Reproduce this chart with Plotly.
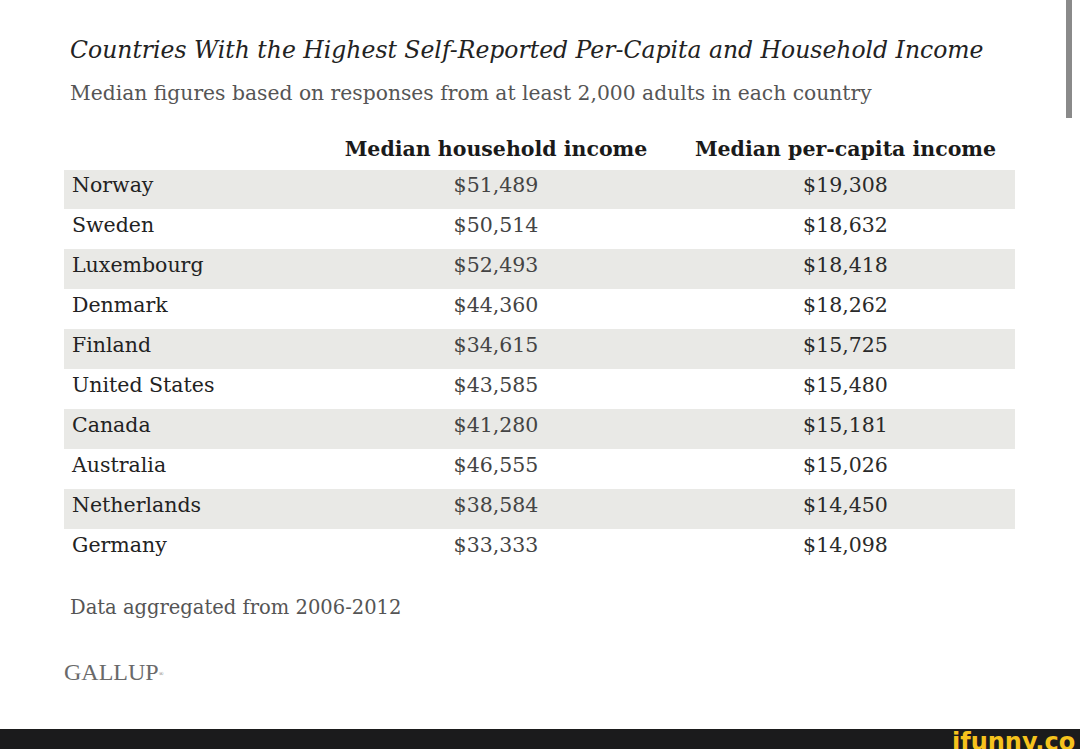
import plotly.graph_objects as go

countries = ["Norway", "Sweden", "Luxembourg", "Denmark", "Finland",
             "United States", "Canada", "Australia", "Netherlands", "Germany"]
household = [51489, 50514, 52493, 44360, 34615, 43585, 41280, 46555, 38584, 33333]
per_capita = [19308, 18632, 18418, 18262, 15725, 15480, 15181, 15026, 14450, 14098]
headers = ["", "Median household income", "Median per-capita income"]

W, H = 1080, 749
SERIF = "DejaVu Serif"

def money(v):
    return "${:,}".format(v)

stripe = ["#e9e9e6" if i % 2 == 0 else "#ffffff" for i in range(len(countries))]

fig = go.Figure()
fig.add_trace(go.Table(
    domain=dict(x=[64 / W, 1014 / W], y=[0.15, 1 - 129 / H]),
    columnwidth=[251, 362, 337],
    header=dict(
        values=["<b>%s</b>" % h if h else "" for h in headers],
        align=["left", "center", "center"],
        fill_color="white",
        line_color="white",
        height=40,
        font=dict(family=SERIF, size=20.5, color="#1a1a1a"),
    ),
    cells=dict(
        values=[countries, [money(v) for v in household], [money(v) for v in per_capita]],
        align=["left", "center", "center"],
        fill_color=[stripe, stripe, stripe],
        line_color=[stripe, stripe, stripe],
        height=40,
        font=dict(family=SERIF, size=20.5, color=["#222222", "#444444", "#2a2a2a"]),
    ),
))

fig.add_annotation(text="<i>Countries With the Highest Self-Reported Per-Capita and Household Income</i>",
                   x=68 / W, y=1 - 50 / H, xref="paper", yref="paper", xanchor="left", yanchor="middle",
                   showarrow=False, font=dict(family=SERIF, size=23.5, color="#222222"))
fig.add_annotation(text="Median figures based on responses from at least 2,000 adults in each country",
                   x=68 / W, y=1 - 93 / H, xref="paper", yref="paper", xanchor="left", yanchor="middle",
                   showarrow=False, font=dict(family=SERIF, size=20.3, color="#555555"))
fig.add_annotation(text="Data aggregated from 2006-2012",
                   x=68 / W, y=1 - 607 / H, xref="paper", yref="paper", xanchor="left", yanchor="middle",
                   showarrow=False, font=dict(family=SERIF, size=19.5, color="#555555"))
fig.add_annotation(text="GALLUP<span style='font-size:9px'><sup>®</sup></span>",
                   x=62 / W, y=1 - 672 / H, xref="paper", yref="paper", xanchor="left", yanchor="middle",
                   showarrow=False, font=dict(family="Liberation Serif", size=24, color="#6a6a6a"))

# bottom black bar with watermark
fig.add_shape(type="rect", xref="paper", yref="paper", x0=0, x1=1, y0=0, y1=20 / H,
              fillcolor="#1b1b1c", line_width=0, layer="above")
fig.add_annotation(text="<b>ifunny.co</b>", x=1077 / W, y=1 - 742 / H, xref="paper", yref="paper",
                   xanchor="right", yanchor="middle", showarrow=False,
                   font=dict(family="DejaVu Sans", size=24, color="#f6c21c"))
# scrollbar artifact
fig.add_shape(type="rect", xref="paper", yref="paper", x0=1066 / W, x1=1072 / W,
              y0=1 - 118 / H, y1=1, fillcolor="#8a8a8a", line_width=0)

fig.update_layout(width=W, height=H, margin=dict(l=0, r=0, t=0, b=0),
                  paper_bgcolor="white", plot_bgcolor="white", showlegend=False)
fig.write_html("out.html", config={"displayModeBar": False},
               post_script="document.body.style.margin='0px';document.body.style.overflow='hidden';")
